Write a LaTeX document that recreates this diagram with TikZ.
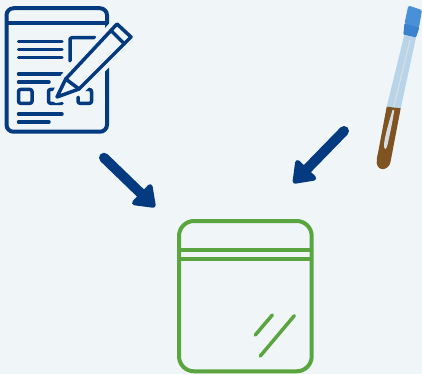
\documentclass[tikz,border=0pt]{standalone}
\usetikzlibrary{positioning, arrows.meta}

\definecolor{bgpale}{HTML}{F0F5F8}
\definecolor{navy}{HTML}{033A80}
\definecolor{baggreen}{HTML}{5AA53F}
\definecolor{capblue}{HTML}{4A90D6}
\definecolor{capdark}{HTML}{3A82CC}
\definecolor{glassblue}{HTML}{B7D4E8}
\definecolor{soilbrown}{HTML}{7F5422}
\definecolor{swabgrey}{HTML}{D6DEE3}

\begin{document}
\begin{tikzpicture}[
    x=1pt, y=-1pt,
    % Outlines of the two drawn icons
    docbox/.style={draw=navy, line width=4pt, rounded corners=7pt, minimum width=100.5pt, minimum height=123.5pt, inner sep=0pt, outer sep=0pt},
    bagbox/.style={draw=baggreen, line width=4pt, rounded corners=15pt, minimum width=132.7pt, minimum height=150.3pt, inner sep=0pt, outer sep=0pt},
    tubebox/.style={minimum width=46pt, minimum height=165pt, inner sep=0pt, outer sep=0pt},
    docline/.style={draw=navy, line width=3.5pt, line cap=round, line join=round},
    bagline/.style={draw=baggreen, line width=4pt},
    glint/.style={draw=baggreen, line width=3.5pt, line cap=round},
    arr/.style={-{Triangle[length=22pt, width=31pt, line width=5pt, round]}, draw=navy, line width=10pt, line cap=round}
]

    % --- Background ---
    \fill[bgpale] (0,0) rectangle (422,374);
    \useasboundingbox (0,0) rectangle (422,374);

    % --- Nodes ---
    \node[docbox] (doc) at (56.75,70) {};
    \node[bagbox] (bag) at (245.35,296.15) {};
    \node[tubebox] (tube) at (399,88.5) {};

    % --- Form ---
    \draw[navy, line width=4pt] (doc.west |- 0,23) -- (doc.east |- 0,23);
    \foreach \y in {41.7, 49.3, 57.3, 114}
        \draw[docline] (18.5,\y) -- (62,\y);
    \foreach \y in {82, 122}
        \draw[docline] (18.5,\y) -- (49,\y);
    \draw[docline] (18.5,74) -- (62,74);
    \draw[docline, rounded corners=2pt] (95,37.7) -- (70,37.7) -- (70,61);
    \draw[docline, rounded corners=2pt] (18.5,89.5) rectangle (32,103.3);
    \draw[docline, rounded corners=2pt] (56,89.5) -- (48.5,89.5) -- (48.5,103.3) -- (62,103.3);
    \draw[docline, rounded corners=2pt] (84,89.5) -- (91.5,89.5) -- (91.5,103.3) -- (78,103.3) -- (78,97);

    % --- Pencil, with a halo that cuts the form behind it ---
    \draw[bgpale, fill=bgpale, line width=12pt, line join=round] (57,97) -- (65.7,79) -- (117,24) -- (131,37) -- (79,89) -- cycle;
    \draw[docline, fill=bgpale] (57,97) -- (65.7,79) -- (117,24) -- (131,37) -- (79,89) -- cycle;
    \draw[docline] (65.7,79) -- (79,89);
    \draw[docline] (111,30.5) -- (124.5,44);

    % --- Tube ---
    \fill[glassblue] (404.3,35) -- (416,37.5) -- (400.7,108.3) -- (386.7,106.7) -- cycle;
    \draw[swabgrey, line width=1.3pt] (410,40) -- (393,110);
    \fill[soilbrown] (386.7,106.7) -- (400.7,108.3) -- (390.5,162) .. controls (389,170) and (378,172.5) .. (376.7,163) .. controls (376.5,160) and (377,157) .. (378,153) -- cycle;
    \fill[swabgrey] (392.5,110) -- (394.3,110.3) .. controls (392,125) and (389,138) .. (387.5,145) .. controls (386.5,150.5) and (383.5,150) .. (384,144.5) .. controls (385,135) and (389,122) .. cycle;
    \fill[capdark, rounded corners=1pt] (404.5,23) -- (419.5,27) -- (416,37.5) -- (403.3,34.5) -- cycle;
    \fill[capblue, rounded corners=1.5pt] (408.3,5.5) -- (422,10) -- (419,27.5) -- (404.5,23.5) -- cycle;

    % --- Bag ---
    \draw[bagline] (bag.west |- 0,250) -- (bag.east |- 0,250);
    \draw[bagline] (bag.west |- 0,258.7) -- (bag.east |- 0,258.7);
    \draw[glint] (272.3,315) -- (255.3,335);
    \draw[glint] (294.3,315.7) -- (260.3,356);

    % --- Edges ---
    \draw[arr] ([shift={(-3,26)}]doc.south east) -- ([shift={(-24,-14)}]bag.north west);
    \draw[arr] ([shift={(-32,-40)}]tube.south west) -- ([shift={(48,-38)}]bag.north);

\end{tikzpicture}
\end{document}
